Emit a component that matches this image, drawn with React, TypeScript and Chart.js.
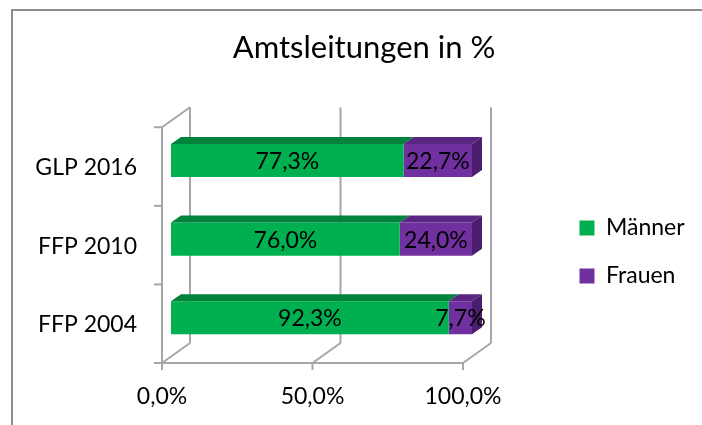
import React, { useEffect, useRef } from "react";
import { Chart, registerables } from "chart.js";

Chart.register(...registerables);

const categories = ["GLP 2016", "FFP 2010", "FFP 2004"];
const maenner = [77.3, 76.0, 92.3];
const frauen = [22.7, 24.0, 7.7];
const xTicks = [0, 50, 100];
const seriesNames = ["Männer", "Frauen"];
const titleText = "Amtsleitungen in %";

const FONT = "Lato";
const GREEN = "#00B050";
const GREEN_TOP = "#00843C";
const PURPLE = "#7030A0";
const PURPLE_TOP = "#5A2682";
const PURPLE_SIDE = "#4A1E6C";
const GRID = "#A6A6A6";

const fmt = (v: number) => v.toFixed(1).replace(".", ",") + "%";

// 3D offsets relative to the bars' front face
const FRONT = { x: -9, y: 6 };
const BACK = { x: 19, y: -14 };
const DEPTH = { x: 10, y: -7 };

const LEGEND_BOX = { left: 554.5, top: 79 };

const framePlugin = {
  id: "frame3d",
  afterLayout(chart: any) {
    const lg = chart.legend;
    if (!lg) return;
    const w = lg.width;
    lg.left = LEGEND_BOX.left;
    lg.right = LEGEND_BOX.left + w;
    lg.top = LEGEND_BOX.top;
    lg.bottom = chart.height;
    lg.height = lg.bottom - lg.top;
  },
  beforeDraw(chart: any) {
    const ctx = chart.ctx;
    ctx.save();
    ctx.strokeStyle = "#8C8C8C";
    ctx.lineWidth = 2;
    ctx.beginPath();
    ctx.moveTo(12, 425);
    ctx.lineTo(12, 10);
    ctx.lineTo(702, 10);
    ctx.stroke();
    ctx.restore();
  },
  beforeDatasetsDraw(chart: any) {
    const { ctx, chartArea } = chart;
    const xs = chart.scales.x;
    const { left: L, right: R, top: T, bottom: B } = chartArea;
    ctx.save();
    ctx.strokeStyle = GRID;
    ctx.lineWidth = 2;
    ctx.lineCap = "butt";
    const line = (x1: number, y1: number, x2: number, y2: number) => {
      ctx.beginPath();
      ctx.moveTo(x1, y1);
      ctx.lineTo(x2, y2);
      ctx.stroke();
    };
    xTicks.forEach((v) => {
      const px = xs.getPixelForValue(v);
      line(px + BACK.x, T + BACK.y, px + BACK.x, B + BACK.y);
      line(px + FRONT.x, B + FRONT.y, px + BACK.x, B + BACK.y);
      line(px + FRONT.x, B + FRONT.y, px + FRONT.x, B + FRONT.y + 7);
    });
    line(L + FRONT.x - 8, B + FRONT.y, R + FRONT.x, B + FRONT.y);
    line(L + FRONT.x, T + FRONT.y, L + FRONT.x, B + FRONT.y);
    line(L + FRONT.x, T + FRONT.y, L + BACK.x, T + BACK.y);
    const band = (B - T) / categories.length;
    for (let i = 0; i <= categories.length; i++) {
      const y = T + band * i + FRONT.y;
      line(L + FRONT.x - 8, y, L + FRONT.x, y);
    }
    ctx.restore();
  },
  afterDatasetsDraw(chart: any) {
    const ctx = chart.ctx;
    ctx.save();
    const nSets = chart.data.datasets.length;
    for (let d = 0; d < nSets; d++) {
      const meta = chart.getDatasetMeta(d);
      const topColor = d === 0 ? GREEN_TOP : PURPLE_TOP;
      meta.data.forEach((el: any) => {
        const p = el.getProps(["x", "y", "base", "height"], true);
        const x0 = Math.min(p.x, p.base);
        const x1 = Math.max(p.x, p.base);
        const top = p.y - p.height / 2;
        const bot = p.y + p.height / 2;
        ctx.fillStyle = topColor;
        ctx.beginPath();
        ctx.moveTo(x0, top);
        ctx.lineTo(x0 + DEPTH.x, top + DEPTH.y);
        ctx.lineTo(x1 + DEPTH.x, top + DEPTH.y);
        ctx.lineTo(x1, top);
        ctx.closePath();
        ctx.fill();
        if (d === nSets - 1) {
          ctx.fillStyle = PURPLE_SIDE;
          ctx.beginPath();
          ctx.moveTo(x1, top);
          ctx.lineTo(x1 + DEPTH.x, top + DEPTH.y);
          ctx.lineTo(x1 + DEPTH.x, bot + DEPTH.y);
          ctx.lineTo(x1, bot);
          ctx.closePath();
          ctx.fill();
        }
      });
    }
    ctx.fillStyle = "#000";
    ctx.font = `23px ${FONT}`;
    ctx.textAlign = "center";
    ctx.textBaseline = "middle";
    for (let d = 0; d < nSets; d++) {
      const meta = chart.getDatasetMeta(d);
      const values = chart.data.datasets[d].data;
      meta.data.forEach((el: any, i: number) => {
        const p = el.getProps(["x", "y", "base"], true);
        ctx.fillText(fmt(values[i]), (p.x + p.base) / 2, p.y + 1);
      });
    }
    ctx.restore();
  },
};

export default function App() {
  const ref = useRef<HTMLCanvasElement>(null);
  useEffect(() => {
    if (!ref.current) return;
    const chart = new Chart(ref.current, {
      type: "bar",
      data: {
        labels: categories,
        datasets: [
          { label: seriesNames[0], data: maenner, backgroundColor: GREEN, borderWidth: 0, barPercentage: 0.42, categoryPercentage: 1 },
          { label: seriesNames[1], data: frauen, backgroundColor: PURPLE, borderWidth: 0, barPercentage: 0.42, categoryPercentage: 1 },
        ],
      },
      options: {
        indexAxis: "y",
        responsive: false,
        animation: false,
        events: [],
        layout: { padding: { left: 32.5, right: 6.5, top: 0, bottom: 0 } },
        scales: {
          x: {
            type: "linear",
            stacked: true,
            min: 0,
            max: 100,
            grid: { display: false, drawTicks: false },
            border: { display: false },
            ticks: {
              stepSize: 50,
              color: "#000",
              font: { family: FONT, size: 23 },
              padding: 26,
              labelOffset: FRONT.x,
              maxRotation: 0,
              callback: (v: any) => fmt(Number(v)),
            },
            afterFit: (s: any) => {
              s.height = 68;
              s.paddingLeft = 0;
              s.paddingRight = 230;
            },
          },
          y: {
            type: "category",
            stacked: true,
            grid: { display: false, drawTicks: false },
            border: { display: false },
            ticks: {
              color: "#000",
              font: { family: FONT, size: 23 },
              padding: 34,
              labelOffset: 7,
            },
            afterFit: (s: any) => {
              s.width = 138.5;
              s.paddingTop = 0;
              s.paddingBottom = 0;
            },
          },
        },
        plugins: {
          tooltip: { enabled: false },
          title: {
            display: true,
            text: titleText,
            color: "#000",
            font: { family: FONT, size: 31, weight: "normal" },
            padding: { top: 29.4, bottom: 54.65 },
          },
          legend: {
            position: "right",
            align: "center",
            labels: {
              boxWidth: 15,
              boxHeight: 15,
              padding: 25,
              color: "#000",
              font: { family: FONT, size: 23 },
            },
          },
        },
      },
      plugins: [framePlugin],
    });
    return () => chart.destroy();
  }, []);
  return (
    <div style={{ position: "fixed", left: 0, top: 0, width: 702, height: 425, background: "#fff" }}>
      <canvas ref={ref} width={702} height={425} style={{ display: "block" }} />
    </div>
  );
}
